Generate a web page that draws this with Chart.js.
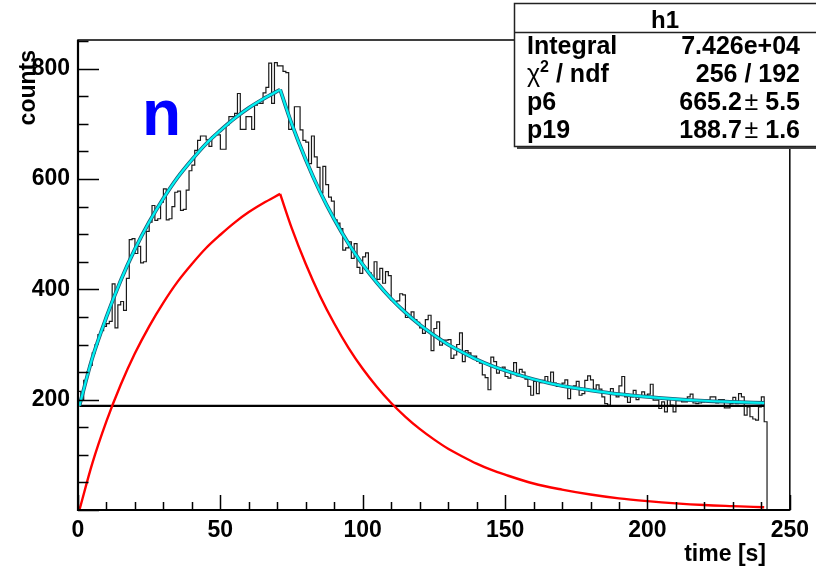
<!DOCTYPE html>
<html>
<head>
<meta charset="utf-8">
<script src="https://cdn.jsdelivr.net/npm/chart.js@4.4.1/dist/chart.umd.min.js"></script>
<style>
html,body{margin:0;padding:0;background:#fff;overflow:hidden;}
canvas{display:block;}
</style>
</head>
<body>
<canvas id="c" width="816" height="573"></canvas>
<script>
// ---------- data ----------
const histName = 'h1';
const binWidth = 1;            // s
const counts = [
 215,200,235,250,262,285,300,318,325,333, 338,342,410,330,372,378,362,420,490,492,
 465,478,448,450,505,522,552,525,528,558, 582,526,528,550,576,578,543,545,580,615,
 625,652,670,678,678,671,659,677,680,680, 654,654,698,713,713,719,755,690,690,713,
 713,690,734,737,737,756,766,810,737,811, 805,805,795,793,690,695,731,731,689,670,
 667,628,678,640,621,575,623,590,567,560, 526,520,510,471,475,486,456,483,440,429,
 459,466,430,423,450,418,438,411,432,425, 380,378,379,392,390,349,352,359,345,340,
 330,320,345,353,289,329,341,299,308,308, 309,275,281,300,321,269,289,285,278,279,
 270,266,245,240,218,277,269,248,255,259, 242,239,250,267,243,255,250,237,224,208,
 233,211,231,235,242,231,250,230,224,224, 230,236,202,220,225,233,208,211,235,243,
 236,219,227,219,205,193,190,220,210,205, 225,242,205,195,205,217,200,205,214,208,
 210,228,199,199,184,196,178,200,190,178, 198,198,196,196,205,210,194,193,194,196,
 199,199,205,205,194,200,200,185,185,193, 204,193,211,205,172,187,169,165,163,187,
 205,160
];
// signal component (red)
const sigRiseT  = [0.5, 5, 10, 15, 20, 25, 30, 35, 40, 45, 50, 55, 60, 65, 71];
const sigRiseY  = [0, 84, 161, 227, 284, 333, 376, 414, 446, 475, 499, 521, 540, 556, 573];
const sigDecayT = [71, 75, 80, 85, 90, 95, 100, 105, 110, 115, 120, 125, 130, 135, 140, 145, 150, 160, 170, 180, 190, 200, 210, 220, 230, 241];
const sigDecayY = [573, 512, 446, 388, 338, 294, 256, 223, 194, 169, 147, 128, 111, 97, 84, 73, 64, 48, 37, 28, 21, 16, 12, 9, 7, 5];
// total fit (cyan)
const totRiseY  = [189, 275, 350, 416, 473, 522, 565, 603, 635, 664, 688, 710, 729, 745, 762];
const totDecayY = [762, 701, 635, 577, 527, 483, 445, 412, 383, 358, 336, 317, 300, 286, 273, 262, 253, 237, 225, 217, 210, 205, 201, 198, 196, 194];
// background (black line)
const bgT = [0.5, 241];
const bgY = [188.7, 188.7];
// stats box
const statLabels = ['Integral', 'chi2', 'p6', 'p19'];
const statValues = ['7.426e+04', '256 / 192', ['665.2', '5.5'], ['188.7', '1.6']];
// axes
const xTitle = 'time [s]';
const yTitle = 'counts';
const xRange = [0, 250];
const yRange = [0, 852];
const xMajor = 50, xMinor = 10, yMajor = 200, yMinor = 50;
const tag = 'n';

// ---------- build datasets ----------
const histPts = [{x: 0, y: 0}];
counts.forEach((v, i) => histPts.push({x: i * binWidth, y: v}));
histPts.push({x: counts.length * binWidth, y: 0});
const zip = (t, v) => t.map((tt, i) => ({x: tt, y: v[i]}));

const FB = '"Liberation Sans", Arial, Helvetica, sans-serif';

const overlay = {
  id: 'overlay',
  beforeDraw(chart) {
    const ctx = chart.ctx;
    ctx.save(); ctx.fillStyle = '#fff'; ctx.fillRect(0, 0, chart.width, chart.height); ctx.restore();
  },
  afterDraw(chart) {
    const {ctx, chartArea: a, scales: {x, y}} = chart;
    ctx.save();
    ctx.strokeStyle = '#000';
    ctx.lineWidth = 1.5;
    ctx.strokeRect(a.left, a.top, a.right - a.left, a.bottom - a.top);
    ctx.lineWidth = 2.2;
    ctx.beginPath(); ctx.moveTo(a.left, a.top); ctx.lineTo(a.left, a.bottom); ctx.lineTo(a.right, a.bottom); ctx.stroke();
    ctx.lineWidth = 1.5;
    ctx.beginPath();
    for (let v = xRange[0]; v <= xRange[1] + 1e-9; v += xMinor) {
      const px = Math.round(x.getPixelForValue(v)) + 0.5;
      const len = (v % xMajor === 0) ? 15 : 8;
      ctx.moveTo(px, a.bottom); ctx.lineTo(px, a.bottom - len);
    }
    for (let v = yRange[0]; v <= yRange[1] + 1e-9; v += yMinor) {
      const py = Math.round(y.getPixelForValue(v)) + 0.5;
      const len = (v % yMajor === 0) ? 21 : 10.5;
      ctx.moveTo(a.left, py); ctx.lineTo(a.left + len, py);
    }
    ctx.stroke();

    // axis titles
    ctx.fillStyle = '#000';
    ctx.font = 'bold 23px ' + FB;
    ctx.textAlign = 'right'; ctx.textBaseline = 'alphabetic';
    ctx.fillText(xTitle, 766, 561);
    ctx.save();
    ctx.translate(35, 50); ctx.rotate(-Math.PI / 2);
    ctx.textAlign = 'right';
    ctx.fillText(yTitle, 0, 0);
    ctx.restore();

    // tag
    ctx.fillStyle = '#0000ff';
    ctx.font = 'bold 64px ' + FB;
    ctx.textAlign = 'left';
    ctx.fillText(tag, 142, 135);

    // stats box
    const bx = 514, by = 3, bw = 320, bh = 143;
    ctx.fillStyle = '#444';
    ctx.fillRect(bx + 3, by + 3, bw, bh);
    ctx.fillStyle = '#fff';
    ctx.fillRect(bx, by, bw, bh);
    ctx.strokeStyle = '#222'; ctx.lineWidth = 1.5;
    ctx.strokeRect(bx + 0.5, by + 0.5, bw, bh);
    ctx.beginPath(); ctx.moveTo(bx, 32.5); ctx.lineTo(bx + bw, 32.5); ctx.stroke();

    const B = 'bold 25px ' + FB, N = '25px ' + FB, S = 'bold 16px ' + FB;
    ctx.fillStyle = '#000';
    ctx.font = 'bold 24px ' + FB; ctx.textAlign = 'center';
    ctx.fillText(histName, 665, 28);
    const segs = (list, xl, base, align) => {
      let w = 0;
      list.forEach(s => { ctx.font = s.f; w += ctx.measureText(s.t).width; });
      let cx = align === 'right' ? xl - w : xl;
      ctx.textAlign = 'left';
      list.forEach(s => { ctx.font = s.f; ctx.fillText(s.t, cx, base + (s.dy || 0)); cx += ctx.measureText(s.t).width; });
    };
    const bases = [54, 82, 110, 138];
    const lab = [
      [{t: statLabels[0], f: B}],
      [{t: '\u03C7', f: N}, {t: '2', f: S, dy: -10}, {t: ' / ndf', f: B}],
      [{t: statLabels[2], f: B}],
      [{t: statLabels[3], f: B}]
    ];
    const val = [
      [{t: statValues[0], f: B}],
      [{t: statValues[1], f: B}],
      [{t: statValues[2][0] + ' ', f: 'bold 12px ' + FB}, {t: '\u00B1', f: N}, {t: ' ' + statValues[2][1], f: B}],
      [{t: statValues[3][0] + ' ', f: 'bold 12px ' + FB}, {t: '\u00B1', f: N}, {t: ' ' + statValues[3][1], f: B}]
    ];
    // main numbers in full size (space sized small)
    val[2] = [{t: statValues[2][0], f: B}, {t: ' ', f: 'bold 10px ' + FB}, {t: '\u00B1', f: N}, {t: ' ' + statValues[2][1], f: B}];
    val[3] = [{t: statValues[3][0], f: B}, {t: ' ', f: 'bold 10px ' + FB}, {t: '\u00B1', f: N}, {t: ' ' + statValues[3][1], f: B}];
    for (let i = 0; i < 4; i++) {
      segs(lab[i], 527, bases[i], 'left');
      segs(val[i], 800, bases[i], 'right');
    }
    ctx.restore();
  }
};

new Chart(document.getElementById('c'), {
  type: 'line',
  data: {
    datasets: [
      {data: zip(sigRiseT, totRiseY), borderColor: '#00f2f2', borderWidth: 2.2, cubicInterpolationMode: 'monotone', pointRadius: 0, order: 1},
      {data: zip(sigDecayT, totDecayY), borderColor: '#00f2f2', borderWidth: 2.2, cubicInterpolationMode: 'monotone', pointRadius: 0, order: 1},
      {data: zip(sigRiseT, totRiseY), borderColor: '#1d5f78', borderWidth: 3.8, cubicInterpolationMode: 'monotone', pointRadius: 0, order: 2},
      {data: zip(sigDecayT, totDecayY), borderColor: '#1d5f78', borderWidth: 3.8, cubicInterpolationMode: 'monotone', pointRadius: 0, order: 2},
      {data: zip(sigRiseT, sigRiseY), borderColor: '#ff0000', borderWidth: 2.4, cubicInterpolationMode: 'monotone', pointRadius: 0, order: 3},
      {data: zip(sigDecayT, sigDecayY), borderColor: '#ff0000', borderWidth: 2.4, cubicInterpolationMode: 'monotone', pointRadius: 0, order: 3},
      {data: zip(bgT, bgY), borderColor: '#000', borderWidth: 2.2, pointRadius: 0, order: 4},
      {data: histPts, borderColor: '#1a1a1a', borderWidth: 1.2, stepped: 'before', pointRadius: 0, order: 5}
    ]
  },
  options: {
    responsive: false,
    animation: false,
    devicePixelRatio: 1,
    layout: {padding: {left: 0, right: 25, top: 40, bottom: 0}},
    plugins: {legend: {display: false}, tooltip: {enabled: false}},
    scales: {
      x: {
        type: 'linear', min: xRange[0], max: xRange[1],
        grid: {display: false, drawTicks: false},
        border: {display: false},
        ticks: {stepSize: xMajor, autoSkip: false, maxRotation: 0, padding: 7, color: '#000',
                font: {family: FB, size: 23, weight: 'bold'}},
        afterFit: s => { s.height = 63; }
      },
      y: {
        type: 'linear', min: yRange[0], max: yRange[1],
        grid: {display: false, drawTicks: false},
        border: {display: false},
        ticks: {stepSize: yMajor, includeBounds: false, padding: 8, color: '#000',
                font: {family: FB, size: 23, weight: 'bold'},
                callback: v => (v === 0 ? '' : String(v))},
        afterFit: s => { s.width = 78; }
      }
    }
  },
  plugins: [overlay]
});
</script>
</body>
</html>
